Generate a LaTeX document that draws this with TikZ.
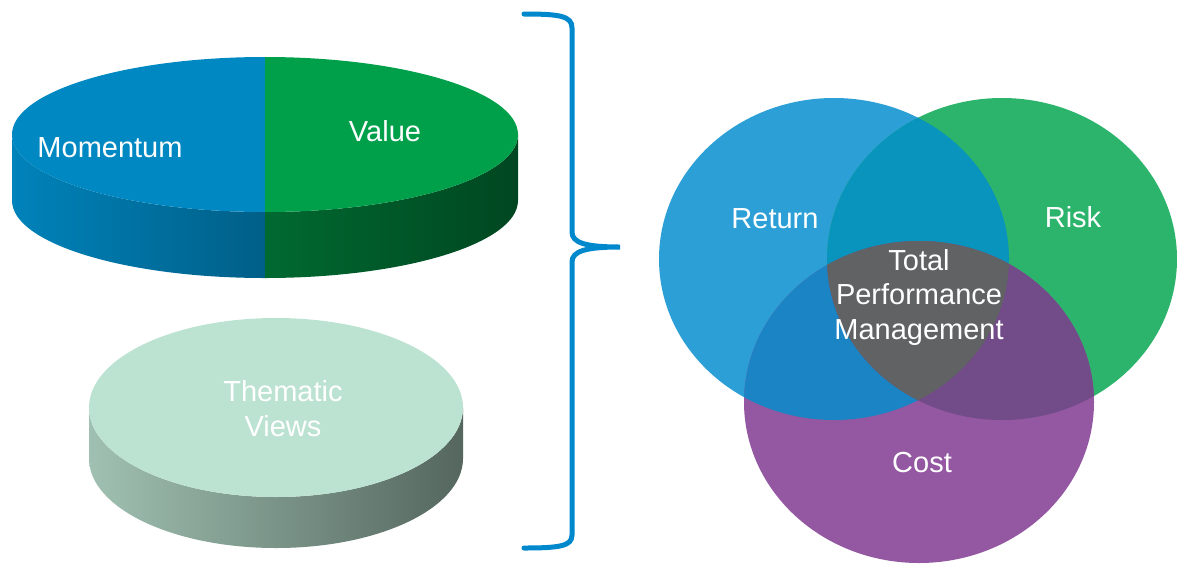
\documentclass[tikz,border=0pt]{standalone}
\usepackage{fontspec}
\setmainfont{Liberation Sans}
\definecolor{momtop}{HTML}{0088C2}
\definecolor{valtop}{HTML}{00A04A}
\definecolor{themtop}{HTML}{BCE3D1}
\definecolor{bracecol}{HTML}{0088CC}
\definecolor{retcol}{HTML}{2B9FD6}
\definecolor{riskcol}{HTML}{2DB46C}
\definecolor{costcol}{HTML}{9457A2}
\definecolor{retrisk}{HTML}{0894BC}
\definecolor{retcost}{HTML}{1B84C4}
\definecolor{riskcost}{HTML}{724B89}
\definecolor{tpmgrey}{HTML}{616264}
\begin{document}
\begin{tikzpicture}[x=1pt,y=-1pt,
  lbl/.style={text=white,font=\fontsize{29}{34.5}\selectfont,align=center,inner sep=0pt}]
  \useasboundingbox (0,0) rectangle (1177,563);
  % momentum / value disk
  \shade[left color=momtop!96!black, right color=momtop!70!black] (12,134.5) -- (12,200.5)
    arc[start angle=180, end angle=90, x radius=253, y radius=77.5] -- (265,212)
    arc[start angle=90, end angle=180, x radius=253, y radius=77.5] -- cycle;
  \shade[left color=valtop!66!black, right color=valtop!44!black] (265,212) -- (265,278)
    arc[start angle=90, end angle=0, x radius=253, y radius=77.5] -- (518,134.5)
    arc[start angle=0, end angle=90, x radius=253, y radius=77.5] -- cycle;
  \fill[momtop] (265,134.5) -- (265,57) arc[start angle=270, end angle=90, x radius=253, y radius=77.5] -- cycle;
  \fill[valtop] (265,134.5) -- (265,57) arc[start angle=270, end angle=450, x radius=253, y radius=77.5] -- cycle;
  \node[lbl] (momentum) at (110,148) {Momentum};
  \node[lbl] (value) at (385,131) {Value};
  % thematic views disk
  \shade[left color=themtop!85!black, middle color=themtop!72!black, right color=themtop!45!black]
    (89,407.5) -- (89,458.5)
    arc[start angle=180, end angle=0, x radius=187, y radius=89.5] -- (463,407.5)
    arc[start angle=0, end angle=180, x radius=187, y radius=89.5] -- cycle;
  \fill[themtop] (276,407.5) ellipse[x radius=187, y radius=89.5];
  \node[lbl] (thematic) at (283,408.5) {Thematic\\Views};
  % brace
  \draw[bracecol, line width=5pt, line cap=round] (524,14) .. controls (560,14) and (572,16) .. (572,28)
    -- (572,232) .. controls (572,243) and (586,247) .. (620,247)
    .. controls (586,247) and (572,251) .. (572,262) -- (572,535)
    .. controls (572,546) and (560,548) .. (524,548);
  % venn
  \fill[retcol] (834,259) ellipse[x radius=175, y radius=161];
  \fill[riskcol] (1002,259) ellipse[x radius=175, y radius=161];
  \fill[costcol] (919,402) ellipse[x radius=175, y radius=161];
  \begin{scope}
    \clip (834,259) ellipse[x radius=175, y radius=161];
    \fill[retrisk] (1002,259) ellipse[x radius=175, y radius=161];
    \fill[retcost] (919,402) ellipse[x radius=175, y radius=161];
  \end{scope}
  \begin{scope}
    \clip (1002,259) ellipse[x radius=175, y radius=161];
    \fill[riskcost] (919,402) ellipse[x radius=175, y radius=161];
    \clip (834,259) ellipse[x radius=175, y radius=161];
    \fill[tpmgrey] (919,402) ellipse[x radius=175, y radius=161];
  \end{scope}
  \node[lbl] (return) at (775,219) {Return};
  \node[lbl] (risk) at (1073,217) {Risk};
  \node[lbl] (cost) at (922,463) {Cost};
  \node[lbl] (tpm) at (919,297) {Total\\Performance\\Management};
\end{tikzpicture}
\end{document}
